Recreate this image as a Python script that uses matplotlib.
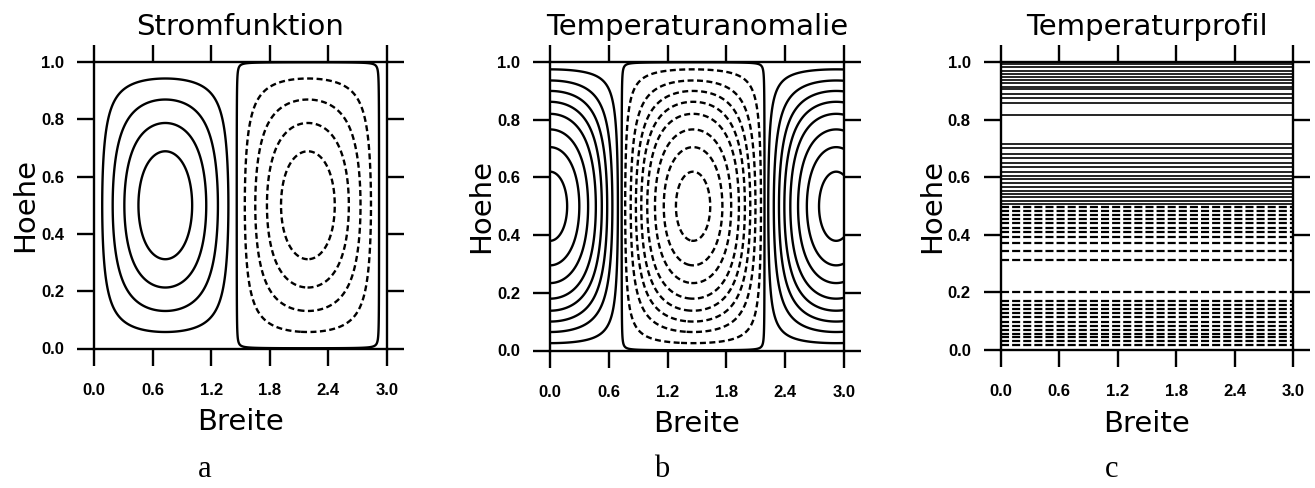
import numpy as np
import matplotlib
matplotlib.use("Agg")
import matplotlib.pyplot as plt

# ---------------------------------------------------------------- data
breite_ticks = [0.0, 0.6, 1.2, 1.8, 2.4, 3.0]
hoehe_ticks = [0.0, 0.2, 0.4, 0.6, 0.8, 1.0]
titles = ["Stromfunktion", "Temperaturanomalie", "Temperaturprofil"]
panel_letters = ["a", "b", "c"]

# width of one convection roll (half wavelength of the mode)
cell_width = 1.46

# contour levels relative to the field maximum (drawn for +/- each value)
stream_levels = [0.18, 0.40, 0.62, 0.83]
anomaly_levels = [0.08, 0.20, 0.31, 0.42, 0.535, 0.67, 0.80, 0.93]
# separatrix traced just inside the negative cell so it closes along the walls
separatrix_level = -0.003

# isotherm heights of the basic temperature profile
profile_warm = [0.992, 0.982, 0.970, 0.958, 0.949, 0.938, 0.926, 0.914,
                0.905, 0.888, 0.876, 0.856, 0.816,
                0.715, 0.700, 0.681, 0.665, 0.648, 0.634, 0.619, 0.605,
                0.593, 0.581, 0.567, 0.553, 0.542, 0.530, 0.518, 0.508]
profile_cold = [0.498, 0.483, 0.469, 0.455, 0.440, 0.425, 0.411, 0.394,
                0.370, 0.344, 0.3125,
                0.2025, 0.171, 0.156, 0.141, 0.127, 0.113, 0.098, 0.083,
                0.069, 0.056, 0.044, 0.031, 0.017]

# ---------------------------------------------------------------- style
plt.rcParams["lines.scale_dashes"] = False
plt.rcParams["font.family"] = ["DejaVu Sans"]

LW = 1.7
DASH_CELL = (0, (4.3, 2.5))
DASH_PROFILE = (0, (5.8, 2.2))

fig = plt.figure(figsize=(13.15, 4.88), dpi=100)
W, H = 1315.0, 488.0

# axes boxes in pixels: (x of Breite=0, x of Breite=3, y of Hoehe=1, y of Hoehe=0)
boxes = [(94.0, 387.0, 62.0, 348.5),
         (550.0, 844.0, 62.0, 350.5),
         (1000.7, 1293.3, 62.0, 350.0)]
letter_x = [205.0, 662.0, 1112.0]

axes = []
for (x0, x1, y1, y0) in boxes:
    ax = fig.add_axes([x0 / W, (H - y0) / H, (x1 - x0) / W, (y0 - y1) / H])
    axes.append(ax)

x = np.linspace(0.0, 3.0, 1201)
z = np.linspace(0.0, 1.0, 601)
X, Z = np.meshgrid(x, z)

# first roll mode: stream function and temperature anomaly
psi = np.sin(np.pi * X / cell_width) * np.sin(np.pi * Z)
theta = np.cos(np.pi * X / cell_width) * np.sin(np.pi * Z)


def draw_cells(ax, field, mags):
    levels = sorted([-m for m in mags] + [separatrix_level] + list(mags))
    styles = [DASH_CELL if lev < separatrix_level - 1e-9 else "solid"
              for lev in levels]
    ax.contour(X, Z, field, levels=levels, colors="k",
               linewidths=LW, linestyles=styles)


draw_cells(axes[0], psi, stream_levels)
draw_cells(axes[1], theta, anomaly_levels)

axc = axes[2]
axc.hlines(profile_warm, 0.0, 3.0, colors="k", linewidth=1.2,
           linestyles="solid")
axc.hlines(profile_cold, 0.0, 3.0, colors="k", linewidth=1.6,
           linestyles=[DASH_PROFILE])

for i, ax in enumerate(axes):
    x0, x1, y1, y0 = boxes[i]
    wpx, hpx = x1 - x0, y0 - y1
    ax.set_xlim(0.0, 3.0)
    ax.set_ylim(0.0, 1.0)
    ax.set_xticks(breite_ticks)
    ax.set_yticks(hoehe_ticks)
    ax.set_xticklabels([f"{v:.1f}" for v in breite_ticks])
    ax.set_yticklabels([f"{v:.1f}" for v in hoehe_ticks])
    for s in ax.spines.values():
        s.set_linewidth(LW)
    ax.tick_params(axis="both", which="major", direction="out",
                   length=12.5, width=LW, top=True, right=True,
                   labelsize=12)
    ax.tick_params(axis="x", pad=12)
    ax.tick_params(axis="y", pad=9)
    for lab in ax.get_xticklabels() + ax.get_yticklabels():
        lab.set_fontfamily("Liberation Sans")
        lab.set_fontweight("bold")

    ax.text(0.5, 1.0 + 27.0 / hpx, titles[i], transform=ax.transAxes,
            ha="center", va="baseline", fontsize=21)
    ax.text(0.5, -82.0 / hpx, "Breite", transform=ax.transAxes,
            ha="center", va="baseline", fontsize=21)
    ax.text(-61.0 / wpx, 0.5, "Hoehe", transform=ax.transAxes,
            ha="center", va="baseline", rotation=90,
            rotation_mode="anchor", fontsize=21)

    fig.text(letter_x[i] / W, (H - 477.0) / H, panel_letters[i],
             ha="center", va="baseline", fontsize=22,
             family="Liberation Serif")

fig.savefig("out.png", dpi=100)
